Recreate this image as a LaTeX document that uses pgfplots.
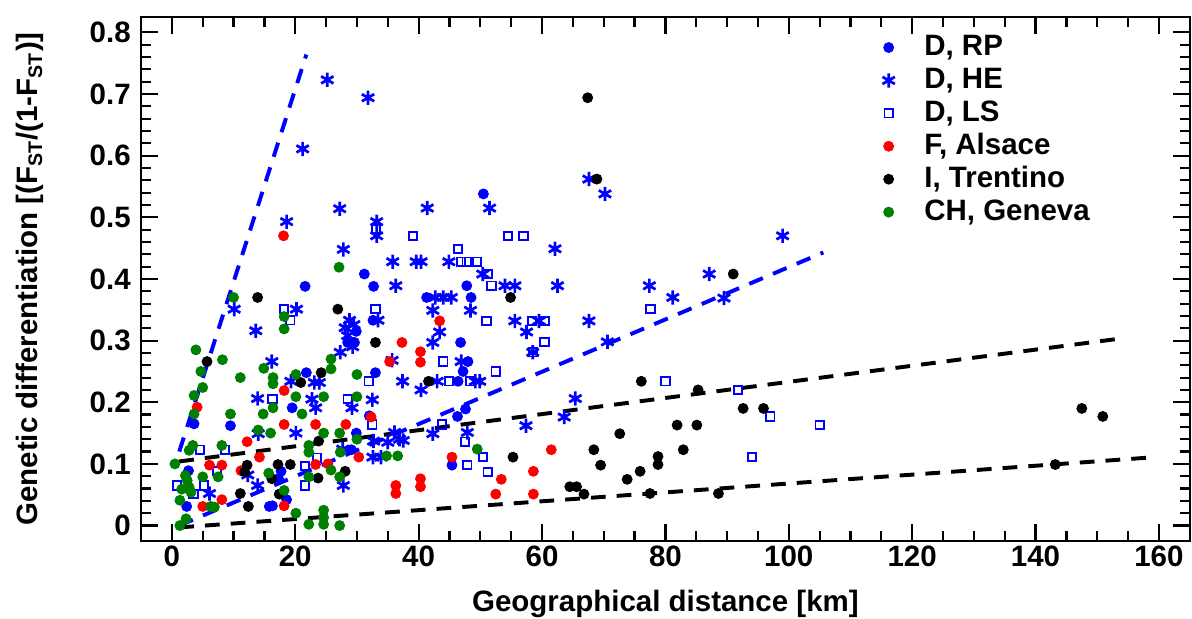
\documentclass[border=0pt,12pt]{standalone}
\usepackage{fontspec}
\setmainfont{Liberation Sans}
\usepackage{pgfplots}
\pgfplotsset{compat=1.18}
\definecolor{cgreen}{RGB}{0,128,0}

\begin{document}
\begin{tikzpicture}[font=\bfseries]
\begin{axis}[
  scale only axis, width=426.9pt, height=213.3pt,
  xmin=-5, xmax=165, ymin=-0.025, ymax=0.825,
  xtick={0,20,...,160}, minor x tick num=3,
  ytick={0,0.1,0.2,0.3,0.4,0.5,0.6,0.7,0.8}, minor y tick num=4,
  tick align=inside,
  major tick length=7pt, minor tick length=4pt,
  every tick/.style={black, line width=0.9pt},
  axis line style={line width=1pt},
  ticklabel style={font=\bfseries},
  /pgf/number format/assume math mode=true,
  xticklabel style={inner sep=1pt, yshift=-1pt},
  xlabel={Geographical distance [km]},
  ylabel={Genetic differentiation [(F\textsubscript{ST}/(1-F\textsubscript{ST})]},
  xlabel style={at={(axis description cs:0.5,-0.1355)}, anchor=base},
  ylabel style={at={(axis description cs:-0.1058,0.5)}, anchor=center},
  legend cell align=left,
  legend style={draw=none, fill=none, at={(axis description cs:0.707,0.971)},
    anchor=north west, inner sep=0pt, outer sep=0pt, row sep=0.9pt,
    font=\bfseries, nodes={inner sep=0.5pt, text height=9pt, text depth=2.5pt},
    /tikz/every odd column/.append style={column sep=11.5pt}},
]
\addplot[only marks, mark=*, mark size=2pt, mark options={draw=blue, fill=blue}] coordinates {
(50.5,0.538)(31.2,0.408)(21.6,0.388)(32.7,0.388)(41.3,0.370)(48.5,0.370)(47.8,0.389)
(46.8,0.297)(48.0,0.266)(47.2,0.250)(46.4,0.234)(47.6,0.189)(46.3,0.177)(45.4,0.098)
(29.9,0.315)(29.6,0.297)(28.5,0.297)(32.6,0.333)(21.8,0.248)(33.0,0.248)(19.5,0.191)
(32.0,0.178)(29.9,0.150)(29.1,0.123)(17.7,0.088)(17.3,0.076)(18.6,0.042)(16.3,0.032)
(3.6,0.165)(9.5,0.162)(2.7,0.089)(2.4,0.031)(15.8,0.031)
};
\addlegendentry{D, RP}
\addplot[only marks, mark=asterisk, mark size=2.9pt, mark options={draw=blue, line width=1.1pt}] coordinates {
(25.2,0.723)(31.8,0.694)(21.2,0.611)(18.6,0.493)(27.2,0.514)(41.4,0.515)(33.2,0.493)
(33.2,0.470)(51.5,0.515)(27.8,0.448)(35.8,0.428)(39.6,0.428)(40.4,0.428)(36.3,0.389)
(10.1,0.351)(20.2,0.351)(13.6,0.316)(28.8,0.333)(33.4,0.333)(28.1,0.321)(28.5,0.308)
(29.3,0.290)(29.5,0.326)(27.3,0.281)(35.7,0.268)(42.7,0.370)(44.0,0.370)(45.3,0.370)
(42.3,0.349)(48.4,0.349)(44.9,0.428)(50.4,0.408)(54.0,0.389)(55.6,0.389)(62.1,0.449)
(62.5,0.389)(67.6,0.562)(70.2,0.538)(77.4,0.389)(81.2,0.370)(87.1,0.408)(89.5,0.369)
(99.0,0.470)(55.6,0.332)(59.5,0.332)(67.6,0.332)(43.4,0.314)(57.5,0.314)(42.3,0.297)
(70.6,0.298)(58.5,0.281)(46.9,0.266)(37.4,0.234)(43.0,0.234)(49.2,0.234)(49.9,0.234)
(40.4,0.220)(65.4,0.206)(63.6,0.176)(57.4,0.162)(42.3,0.149)(47.9,0.151)(37.5,0.138)
(16.2,0.266)(19.3,0.234)(23.1,0.232)(23.9,0.232)(22.7,0.205)(23.3,0.191)(29.2,0.191)
(32.5,0.204)(20.1,0.150)(32.7,0.137)(35.0,0.135)(36.1,0.151)(36.9,0.140)(32.6,0.111)
(33.9,0.111)(27.7,0.124)(27.8,0.065)(13.9,0.206)(14.0,0.149)(12.3,0.082)(6.1,0.052)
(13.9,0.065)
};
\addlegendentry{D, HE}
\addplot[only marks, mark=square, mark size=1.7pt, mark options={draw=blue, line width=0.75pt}] coordinates {
(33.1,0.481)(39.1,0.470)(54.5,0.470)(57.0,0.470)(46.4,0.449)(46.9,0.428)(47.8,0.428)
(49.5,0.428)(51.2,0.408)(51.8,0.389)(77.6,0.351)(51.0,0.332)(58.4,0.332)(60.4,0.332)
(60.4,0.298)(58.5,0.281)(44.0,0.266)(52.5,0.250)(44.9,0.234)(48.3,0.234)(80.0,0.234)
(91.8,0.220)(97.0,0.177)(105.0,0.163)(94.0,0.111)(43.8,0.164)(47.5,0.136)(47.9,0.098)
(50.4,0.111)(51.2,0.087)(18.2,0.351)(19.2,0.333)(33.0,0.351)(31.9,0.234)(16.3,0.205)
(28.5,0.205)(32.5,0.164)(23.5,0.110)(21.6,0.097)(21.6,0.065)(4.6,0.123)(8.6,0.123)
(7.3,0.088)(0.8,0.065)(5.2,0.065)(3.5,0.051)
};
\addlegendentry{D, LS}
\addplot[only marks, mark=*, mark size=2pt, mark options={draw=red, fill=red}] coordinates {
(18.1,0.470)(37.3,0.297)(40.3,0.282)(40.3,0.265)(35.3,0.266)(43.4,0.332)(18.2,0.219)
(32.3,0.176)(18.2,0.164)(23.3,0.164)(28.2,0.164)(30.3,0.111)(23.3,0.099)(25.3,0.100)
(18.2,0.032)(36.3,0.065)(36.3,0.052)(40.3,0.076)(40.3,0.063)(45.4,0.111)(61.5,0.123)
(53.4,0.075)(52.5,0.051)(58.6,0.088)(58.6,0.051)(4.1,0.192)(12.2,0.136)(14.2,0.111)
(6.1,0.098)(8.1,0.098)(11.2,0.089)(8.1,0.042)(5.0,0.031)
};
\addlegendentry{F, Alsace}
\addplot[only marks, mark=*, mark size=2pt, mark options={draw=black, fill=black}] coordinates {
(67.4,0.694)(68.9,0.562)(54.9,0.370)(13.9,0.370)(26.9,0.351)(33.0,0.297)(41.6,0.234)
(20.9,0.232)(24.2,0.248)(5.7,0.266)(23.8,0.137)(17.2,0.099)(19.2,0.099)(28.1,0.088)
(23.7,0.077)(16.2,0.076)(17.4,0.051)(12.2,0.098)(11.8,0.087)(11.1,0.052)(12.4,0.031)
(55.3,0.111)(68.4,0.123)(69.5,0.098)(64.5,0.063)(65.6,0.063)(66.8,0.051)(72.6,0.149)
(73.8,0.075)(75.9,0.088)(76.1,0.234)(77.5,0.052)(78.8,0.112)(78.8,0.099)(82.9,0.123)
(81.9,0.163)(85.1,0.163)(85.3,0.220)(88.6,0.052)(91.0,0.408)(92.6,0.190)(95.9,0.190)
(143.2,0.099)(147.5,0.190)(150.9,0.177)
};
\addlegendentry{I, Trentino}
\addplot[only marks, mark=*, mark size=2pt, mark options={draw=cgreen, fill=cgreen}] coordinates {
(27.1,0.419)(10.0,0.370)(18.2,0.339)(18.2,0.319)(3.9,0.285)(8.2,0.269)(25.8,0.270)
(25.8,0.254)(4.7,0.250)(11.1,0.240)(14.9,0.255)(16.4,0.240)(16.4,0.230)(20.1,0.245)
(30.0,0.245)(5.0,0.224)(3.6,0.211)(3.6,0.181)(9.5,0.181)(14.8,0.181)(16.4,0.191)
(20.1,0.209)(24.6,0.209)(30.0,0.209)(21.1,0.181)(14.0,0.155)(16.0,0.150)(24.6,0.150)
(27.2,0.150)(30.0,0.140)(8.1,0.130)(3.4,0.130)(2.8,0.122)(0.5,0.100)(34.8,0.113)
(36.6,0.113)(27.3,0.119)(22.2,0.130)(22.2,0.119)(15.7,0.085)(25.8,0.090)(22.2,0.079)
(27.2,0.079)(18.2,0.057)(5.0,0.079)(7.5,0.079)(2.2,0.081)(2.5,0.073)(1.6,0.059)
(2.8,0.062)(3.1,0.054)(1.3,0.041)(6.3,0.031)(6.9,0.030)(2.3,0.011)(1.3,0.000)
(20.1,0.020)(24.6,0.025)(24.6,0.013)(22.2,0.002)(24.6,0.002)(27.2,0.000)(49.5,0.124)
};
\addlegendentry{CH, Geneva}
% regression lines
\addplot[blue, line width=1.6pt, dash pattern=on 6pt off 4.5pt, forget plot] coordinates {(1.2,0.12) (21.8,0.764)};
\addplot[blue, line width=1.6pt, dash pattern=on 6pt off 4.5pt, forget plot] coordinates {(1.2,0.0) (105.6,0.443)};
\addplot[black, line width=1.6pt, dash pattern=on 6pt off 4.5pt, forget plot] coordinates {(1.2,0.104) (153.5,0.303)};
\addplot[black, line width=1.6pt, dash pattern=on 6pt off 4.5pt, forget plot] coordinates {(1.2,-0.003) (158,0.110)};
\end{axis}
\pgfresetboundingbox
\path[use as bounding box] (-57.4pt,-31.7pt) rectangle (427.8pt,220.2pt);
\end{tikzpicture}
\end{document}
